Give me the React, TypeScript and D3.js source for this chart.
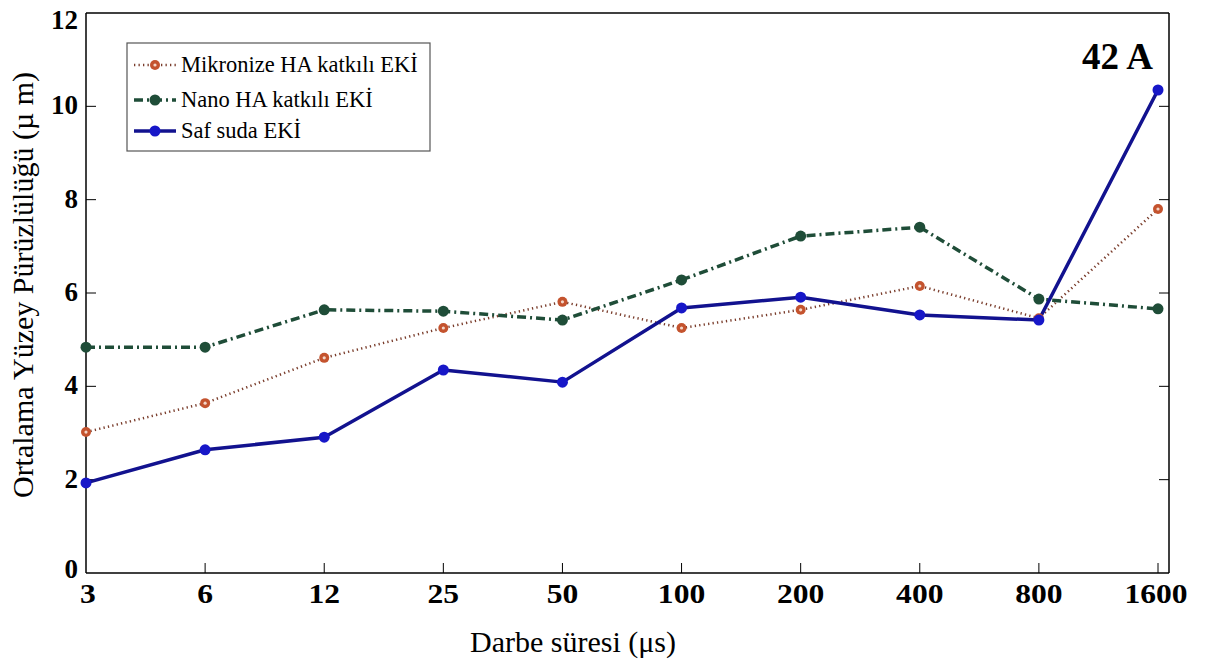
import React from "react";
import * as d3 from "d3";

const categories = ["3", "6", "12", "25", "50", "100", "200", "400", "800", "1600"];
const mikronize = [3.02, 3.64, 4.61, 5.25, 5.81, 5.25, 5.64, 6.15, 5.46, 7.8];
const nano = [4.84, 4.84, 5.64, 5.61, 5.42, 6.28, 7.22, 7.41, 5.87, 5.66];
const saf = [1.93, 2.64, 2.91, 4.35, 4.09, 5.68, 5.91, 5.53, 5.42, 10.35];
const yTicks = [0, 2, 4, 6, 8, 10, 12];
const seriesNames = ["Mikronize HA katkılı EKİ", "Nano HA katkılı EKİ", "Saf suda EKİ"];

const W = 1205, H = 664;
const L = 86, R = 1169, T = 13, B = 573;
const xLast = 1158;

export default function App() {
  const x = d3.scalePoint<string>().domain(categories).range([L, xLast]);
  const y = d3.scaleLinear().domain([0, 12]).range([B, T]);
  const line = d3.line<number>().x((_, i) => x(categories[i])!).y((d) => y(d));

  const serif = "'Liberation Serif', 'Times New Roman', serif";
  const orangeLine = "#7a3d2c";
  const orange = "#c4532e";
  const green = "#1f4d38";
  const blueLine = "#12128f";
  const blue = "#1717c8";

  const legendRows = [
    { name: seriesNames[0], y: 65, kind: "m" },
    { name: seriesNames[1], y: 100, kind: "n" },
    { name: seriesNames[2], y: 131, kind: "s" },
  ];

  const marker = (kind: string, cx: number, cy: number, key: string | number) => {
    if (kind === "m")
      return (
        <g key={key}>
          <circle cx={cx} cy={cy} r={5} fill={orange} />
          <circle cx={cx} cy={cy} r={1.6} fill="#f3d6c8" />
        </g>
      );
    if (kind === "n") return <circle key={key} cx={cx} cy={cy} r={5.5} fill={green} />;
    return <circle key={key} cx={cx} cy={cy} r={5.5} fill={blue} />;
  };

  const yLabelY = (t: number) => (t === 12 ? 29 : t === 0 ? 578 : y(t) + 8);

  return (
    <svg width={W} height={H} style={{ position: "absolute", left: 0, top: 0, background: "#fff" }} fontFamily={serif}>
      <rect x={0} y={0} width={W} height={H} fill="#fff" />
      {/* axes box */}
      <line x1={L} y1={T} x2={R} y2={T} stroke="#000" strokeWidth={1.5} />
      <line x1={L} y1={B} x2={R} y2={B} stroke="#000" strokeWidth={1.5} />
      <line x1={L} y1={T} x2={L} y2={B} stroke="#000" strokeWidth={1.5} />
      <line x1={R} y1={T} x2={R} y2={B} stroke="#000" strokeWidth={1.5} />

      {/* y ticks */}
      {yTicks.map((t) => (
        <g key={"y" + t}>
          {t > 0 && t < 12 && <line x1={L} x2={L + 10} y1={y(t)} y2={y(t)} stroke="#000" strokeWidth={1} />}
          {t > 0 && t < 12 && <line x1={R - 10} x2={R} y1={y(t)} y2={y(t)} stroke="#000" strokeWidth={1} />}
          <text x={L - 8} y={yLabelY(t)} textAnchor="end" fontSize={27} fontWeight="bold">
            {t}
          </text>
        </g>
      ))}

      {/* x ticks */}
      {categories.map((c, i) => (
        <g key={"x" + c}>
          {i > 0 && <line x1={x(c)!} x2={x(c)!} y1={B} y2={B - 10} stroke="#000" strokeWidth={1} />}
          <text
            transform={`translate(${x(c)! + (i === 0 ? 2 : i === categories.length - 1 ? -2 : 0)}, ${B + 30}) scale(1.17, 1)`}
            textAnchor="middle"
            fontSize={27}
            fontWeight="bold"
          >
            {c}
          </text>
        </g>
      ))}

      {/* axis titles */}
      <text x={573} y={652} textAnchor="middle" fontSize={30}>
        Darbe süresi (μs)
      </text>
      <text transform={`translate(33, 285) rotate(-90)`} textAnchor="middle" fontSize={30}>
        Ortalama Yüzey Pürüzlülüğü (µ m)
      </text>

      {/* series */}
      <path d={line(mikronize)!} fill="none" stroke={orangeLine} strokeWidth={2.5} strokeDasharray="1.3,3.2" />
      <path d={line(nano)!} fill="none" stroke={green} strokeWidth={3.5} strokeDasharray="9,4,2,4" />
      <path d={line(saf)!} fill="none" stroke={blueLine} strokeWidth={3.5} strokeLinejoin="round" />
      {mikronize.map((v, i) => marker("m", x(categories[i])!, y(v), "m" + i))}
      {nano.map((v, i) => marker("n", x(categories[i])!, y(v), "n" + i))}
      {saf.map((v, i) => marker("s", x(categories[i])!, y(v), "s" + i))}

      {/* annotation */}
      <text x={1153} y={69} textAnchor="end" fontSize={37} fontWeight="bold">
        42 A
      </text>

      {/* legend */}
      <rect x={127} y={43} width={303} height={108} fill="#fff" stroke="#555" strokeWidth={1.2} />
      {legendRows.map((r) => (
        <g key={r.name}>
          {r.kind === "m" && (
            <line x1={134} x2={176} y1={r.y} y2={r.y} stroke={orangeLine} strokeWidth={2.5} strokeDasharray="1.3,3.2" />
          )}
          {r.kind === "n" && (
            <line x1={134} x2={176} y1={r.y} y2={r.y} stroke={green} strokeWidth={3.5} strokeDasharray="9,4,2,4" />
          )}
          {r.kind === "s" && <line x1={134} x2={176} y1={r.y} y2={r.y} stroke={blueLine} strokeWidth={3.5} />}
          {marker(r.kind, 155, r.y, "lm" + r.kind)}
          <text x={181} y={r.y + 7} fontSize={22.5}>
            {r.name}
          </text>
        </g>
      ))}
    </svg>
  );
}
